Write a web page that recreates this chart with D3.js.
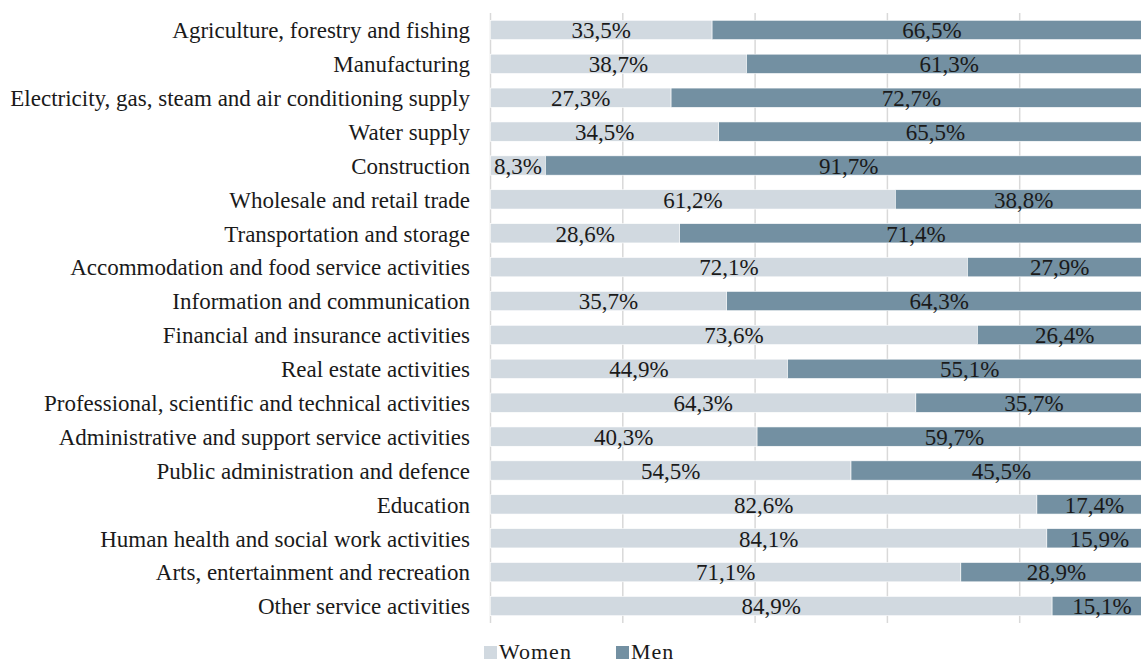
<!DOCTYPE html>
<html>
<head>
<meta charset="utf-8">
<script src="https://cdn.jsdelivr.net/npm/d3@7"></script>
<style>
  html, body { margin: 0; padding: 0; background: #fff; }
  svg { display: block; }
</style>
</head>
<body>
<svg id="chart" width="1141" height="664"></svg>
<script>
// Sectors, top to bottom
const sectors = [
  "Agriculture, forestry and fishing",
  "Manufacturing",
  "Electricity, gas, steam and air conditioning supply",
  "Water supply",
  "Construction",
  "Wholesale and retail trade",
  "Transportation and storage",
  "Accommodation and food service activities",
  "Information and communication",
  "Financial and insurance activities",
  "Real estate activities",
  "Professional, scientific and technical activities",
  "Administrative and support service activities",
  "Public administration and defence",
  "Education",
  "Human health and social work activities",
  "Arts, entertainment and recreation",
  "Other service activities"
];

// Share of employment (%)
const women = [33.5, 38.7, 27.3, 34.5, 8.3, 61.2, 28.6, 72.1, 35.7, 73.6, 44.9, 64.3, 40.3, 54.5, 82.6, 84.1, 71.1, 84.9];
const men   = [66.5, 61.3, 72.7, 65.5, 91.7, 38.8, 71.4, 27.9, 64.3, 26.4, 55.1, 35.7, 59.7, 45.5, 17.4, 15.9, 28.9, 15.1];

const seriesNames = ["Women", "Men"];
const gridTicks = [0, 20, 40, 60, 80, 100];

const colors = { Women: "#d1d9e0", Men: "#7390a2" };
const FONT = "'Liberation Serif', 'DejaVu Serif', serif";

const svg = d3.select("#chart")
  .attr("font-family", FONT)
  .style("font-family", FONT);
const margin = { top: 13, left: 490.5 };
const plotW = 661.5, plotH = 610;

const x = d3.scaleLinear().domain([0, 100]).range([margin.left, margin.left + plotW]);
const y = d3.scaleBand().domain(sectors).range([margin.top, margin.top + plotH]).paddingInner(0.43).paddingOuter(0.215);

const rows = sectors.map((s, i) => ({ sector: s, Women: women[i], Men: men[i] }));
const stacked = d3.stack().keys(seriesNames)(rows);

// vertical gridlines
svg.append("g").selectAll("line").data(gridTicks).join("line")
  .attr("x1", d => x(d)).attr("x2", d => x(d))
  .attr("y1", margin.top).attr("y2", margin.top + plotH)
  .attr("stroke", "#d9d9d9").attr("stroke-width", 1.5);

// bars
const layers = svg.append("g").selectAll("g").data(stacked).join("g")
  .attr("fill", d => colors[d.key]);

layers.selectAll("rect").data(d => d).join("rect")
  .attr("x", d => x(d[0]))
  .attr("y", d => y(d.data.sector))
  .attr("width", d => x(d[1]) - x(d[0]))
  .attr("height", y.bandwidth())
  .attr("stroke", "#ffffff").attr("stroke-width", 0.6);

// value labels centred in each segment
const fmt = v => v.toFixed(1).replace(".", ",") + "%";
svg.append("g").attr("fill", "#1a1a1a").selectAll("g").data(stacked).join("g")
  .selectAll("text").data(d => d).join("text")
  .attr("x", d => (x(d[0]) + x(d[1])) / 2)
  .attr("y", d => y(d.data.sector) + y.bandwidth() / 2)
  .attr("dy", "0.36em")
  .attr("text-anchor", "middle")
  .attr("font-size", 23)
  .text(d => fmt(d[1] - d[0]));

// category axis labels
svg.append("g").attr("fill", "#1a1a1a").selectAll("text").data(sectors).join("text")
  .attr("x", margin.left - 20.5)
  .attr("y", d => y(d) + y.bandwidth() / 2)
  .attr("dy", "0.36em")
  .attr("text-anchor", "end")
  .attr("font-size", 23)
  .text(d => d);

// legend
const legend = svg.append("g").attr("transform", "translate(484,646)");
const legendX = { Women: 0, Men: 132 };
const items = legend.selectAll("g").data(seriesNames).join("g")
  .attr("transform", d => `translate(${legendX[d]},0)`);
items.append("rect").attr("width", 13).attr("height", 13).attr("fill", d => colors[d]);
items.append("text").attr("x", 15).attr("y", 13)
  .attr("fill", "#1a1a1a").attr("font-size", 22).attr("letter-spacing", 1).text(d => d);
</script>
</body>
</html>
